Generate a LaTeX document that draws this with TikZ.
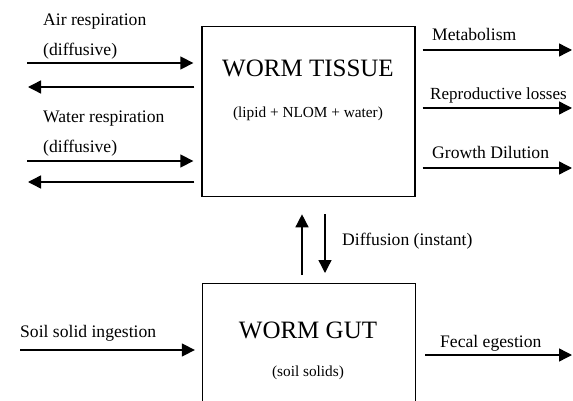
\documentclass[tikz,border=0pt]{standalone}
\usepackage{fontspec}
\setmainfont{Liberation Serif}
\usetikzlibrary{arrows.meta}

\begin{document}
\begin{tikzpicture}[x=1pt, y=-1pt,
  box/.style={draw, rectangle, line width=1.3pt, minimum width=213pt, minimum height=170pt, anchor=north},
  lbl/.style={inner sep=0pt, anchor=base west, font=\fontsize{17.6}{20}\selectfont},
  title/.style={inner sep=0pt, anchor=base, font=\fontsize{25}{28}\selectfont},
  sub/.style={inner sep=0pt, anchor=base, font=\fontsize{15.3}{18}\selectfont},
  flow/.style={-{Triangle[length=13pt, width=13pt]}, line width=1.4pt}]
\clip (0,0) rectangle (573,401);

% compartments
\node[box] (tissue) at (308.5,26) {};
\node[box] (gut) at (309,283) {};
\node[title] (tissuename) at (308,77) {WORM TISSUE};
\node[sub] (tissuemix) at (308,118) {(lipid + NLOM + water)};
\node[title] (gutname) at (308,338) {WORM GUT};
\node[sub] (gutmix) at (308,376) {(soil solids)};

% respiration, left side
\node[lbl] (air) at (43,26) {Air respiration};
\node[lbl] (airdiff) at (43,56) {(diffusive)};
\node[lbl] (water) at (43,123) {Water respiration};
\node[lbl] (waterdiff) at (43,153) {(diffusive)};
\coordinate (airin) at (27,63);
\coordinate (airout) at (28,87);
\coordinate (waterin) at (27,161);
\coordinate (waterout) at (28,182);
\draw[flow, shorten >=8pt] (airin) -- (tissue.west |- airin);
\draw[flow, shorten <=7pt] (tissue.west |- airout) -- (airout);
\draw[flow, shorten >=8pt] (waterin) -- (tissue.west |- waterin);
\draw[flow, shorten <=7pt] (tissue.west |- waterout) -- (waterout);

% losses, right side
\node[lbl] (metab) at (432,41) {Metabolism};
\node[lbl, font=\fontsize{17}{20}\selectfont] (repro) at (430,100) {Reproductive losses};
\node[lbl] (growth) at (432,158) {Growth Dilution};
\coordinate (metabout) at (572,50);
\coordinate (reproout) at (572,108);
\coordinate (growthout) at (572,168);
\draw[flow, shorten <=7pt] (tissue.east |- metabout) -- (metabout);
\draw[flow, shorten <=7pt] (tissue.east |- reproout) -- (reproout);
\draw[flow, shorten <=7pt] (tissue.east |- growthout) -- (growthout);

% exchange between tissue and gut
\coordinate (up) at (302,0);
\coordinate (down) at (325,0);
\draw[flow, shorten <=8pt, shorten >=17pt] (gut.north -| up) -- (tissue.south -| up);
\draw[flow, shorten <=17pt, shorten >=10pt] (tissue.south -| down) -- (gut.north -| down);
\node[lbl] (diffusion) at (342,245) {Diffusion (instant)};

% gut in and out
\node[lbl] (ingest) at (20,337) {Soil solid ingestion};
\node[lbl] (fecal) at (440,347) {Fecal egestion};
\coordinate (soilin) at (20,350);
\coordinate (fecalout) at (572,355);
\draw[flow, shorten >=7pt] (soilin) -- (gut.west |- soilin);
\draw[flow, shorten <=9pt] (gut.east |- fecalout) -- (fecalout);
\end{tikzpicture}
\end{document}
